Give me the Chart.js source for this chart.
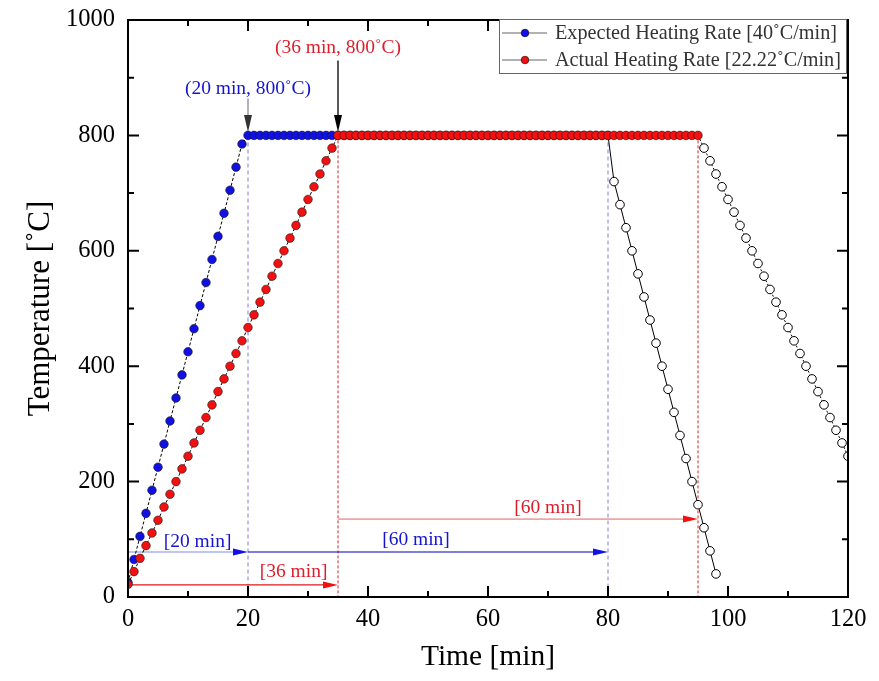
<!DOCTYPE html>
<html>
<head>
<meta charset="utf-8">
<script src="https://cdn.jsdelivr.net/npm/chart.js@4.4.1/dist/chart.umd.min.js"></script>
<style>
  html, body { margin: 0; padding: 0; background: #fff; }
  canvas { display: block; }
</style>
</head>
<body>
<canvas id="c" width="879" height="681"></canvas>
<script>
// ---------------- DATA ----------------
const expectedTime = [0,1,2,3,4,5,6,7,8,9,10,11,12,13,14,15,16,17,18,19,20,
  21,22,23,24,25,26,27,28,29,30,31,32,33,34,35,36,37,38,39,40,41,42,43,44,45,46,47,48,49,50,
  51,52,53,54,55,56,57,58,59,60,61,62,63,64,65,66,67,68,69,70,71,72,73,74,75,76,77,78,79,80];
const expectedTemp = [25,65,105,145,185,225,265,305,345,385,425,465,505,545,585,625,665,705,745,785,800,
  800,800,800,800,800,800,800,800,800,800,800,800,800,800,800,800,800,800,800,800,800,800,800,800,800,800,800,800,800,800,
  800,800,800,800,800,800,800,800,800,800,800,800,800,800,800,800,800,800,800,800,800,800,800,800,800,800,800,800,800,800];

const actualTime = [0,1,2,3,4,5,6,7,8,9,10,11,12,13,14,15,16,17,18,19,20,21,22,23,24,25,26,27,28,29,30,31,32,33,34,35,
  36,37,38,39,40,41,42,43,44,45,46,47,48,49,50,51,52,53,54,55,56,57,58,59,60,61,62,63,64,65,
  66,67,68,69,70,71,72,73,74,75,76,77,78,79,80,81,82,83,84,85,86,87,88,89,90,91,92,93,94,95];
const actualTemp = [22,44,67,89,111,133,156,178,200,222,244,267,289,311,333,356,378,400,422,444,467,489,511,533,556,578,600,622,644,667,689,711,733,756,778,800,
  800,800,800,800,800,800,800,800,800,800,800,800,800,800,800,800,800,800,800,800,800,800,800,800,800,800,800,800,800,800,
  800,800,800,800,800,800,800,800,800,800,800,800,800,800,800,800,800,800,800,800,800,800,800,800,800,800,800,800,800,800];

const expectedCoolTime = [80,81,82,83,84,85,86,87,88,89,90,91,92,93,94,95,96,97,98];
const expectedCoolTemp = [800,720,680,640,600,560,520,480,440,400,360,320,280,240,200,160,120,80,40];

const actualCoolTime = [95,96,97,98,99,100,101,102,103,104,105,106,107,108,109,110,111,112,113,114,115,116,117,118,119,120];
const actualCoolTemp = [800,778,756,733,711,689,667,644,622,600,578,556,533,511,489,467,444,422,400,378,356,333,311,289,267,244];

const xTicks = [0,20,40,60,80,100,120];
const yTicks = [0,200,400,600,800,1000];
const legendLabels = ['Expected Heating Rate [40˚C/min]', 'Actual Heating Rate [22.22˚C/min]'];

// ---------------- HELPERS ----------------
const FONT = '"Liberation Serif", "Times New Roman", serif';
const pts = (xs, ys) => xs.map((t, i) => ({x: t, y: ys[i]}));

function arrowHead(ctx, x1, y1, x2, y2, len, hw, color) {
  const a = Math.atan2(y2 - y1, x2 - x1);
  ctx.save();
  ctx.fillStyle = color;
  ctx.beginPath();
  ctx.moveTo(x2, y2);
  ctx.lineTo(x2 - len * Math.cos(a) + hw * Math.sin(a), y2 - len * Math.sin(a) - hw * Math.cos(a));
  ctx.lineTo(x2 - len * Math.cos(a) - hw * Math.sin(a), y2 - len * Math.sin(a) + hw * Math.cos(a));
  ctx.closePath();
  ctx.fill();
  ctx.restore();
}

function line(ctx, x1, y1, x2, y2, color, w, dash) {
  ctx.save();
  ctx.strokeStyle = color;
  ctx.lineWidth = w;
  ctx.setLineDash(dash || []);
  ctx.beginPath();
  ctx.moveTo(x1, y1);
  ctx.lineTo(x2, y2);
  ctx.stroke();
  ctx.restore();
}

const bgPlugin = {
  id: 'bg',
  beforeDraw(chart) {
    const ctx = chart.ctx;
    ctx.save();
    ctx.fillStyle = '#fff';
    ctx.fillRect(0, 0, chart.width, chart.height);
    ctx.restore();
  }
};

const annotPlugin = {
  id: 'annot',
  beforeDatasetsDraw(chart) {
    const {ctx, scales: {x, y}} = chart;
    const X = v => x.getPixelForValue(v), Y = v => y.getPixelForValue(v);
    // vertical dashed guides
    line(ctx, X(20), Y(800), X(20), Y(0), '#9c9ce8', 1.3, [4, 3]);
    line(ctx, X(80), Y(800), X(80), Y(0), '#9c9ce8', 1.3, [4, 3]);
    line(ctx, X(35), Y(800), X(35), Y(0), '#d82020', 1, [3, 2]);
    line(ctx, X(95), Y(800), X(95), Y(0), '#d82020', 1, [3, 2]);
    // horizontal arrows
    line(ctx, X(0), Y(78), X(20) - 6, Y(78), '#a8b0f0', 1.6);
    arrowHead(ctx, X(0), Y(78), X(20), Y(78), 15, 3.5, '#1010e8');
    line(ctx, X(20), Y(78), X(80) - 6, Y(78), '#0000c0', 1.2);
    arrowHead(ctx, X(20), Y(78), X(80), Y(78), 15, 3.5, '#1010e8');
    line(ctx, X(0), Y(21), X(35) - 6, Y(21), '#e01818', 1.2);
    arrowHead(ctx, X(0), Y(21), X(35), Y(21), 15, 3.5, '#f01010');
    line(ctx, X(35), Y(135), X(95) - 6, Y(135), '#f2a4a4', 1.6);
    arrowHead(ctx, X(35), Y(135), X(95), Y(135), 15, 3.5, '#f01010');
    // down arrows
    line(ctx, X(20), Y(864), X(20), Y(820), '#8a8a8a', 1.3);
    arrowHead(ctx, X(20), Y(864), X(20), Y(806), 17, 4, '#333');
    line(ctx, X(35), Y(930), X(35), Y(820), '#000', 1.3);
    arrowHead(ctx, X(35), Y(930), X(35), Y(806), 17, 4, '#000');
    // texts
    ctx.save();
    ctx.font = '19.5px ' + FONT;
    ctx.textAlign = 'center';
    ctx.textBaseline = 'middle';
    ctx.fillStyle = '#1414d2';
    ctx.fillText('[20 min]', X(11.6), Y(95));
    ctx.fillText('[60 min]', X(48), Y(99));
    ctx.fillText('(20 min, 800˚C)', X(20), Y(881));
    ctx.fillStyle = '#dc1e2a';
    ctx.fillText('[36 min]', X(27.6), Y(43));
    ctx.fillText('[60 min]', X(70), Y(154));
    ctx.fillText('(36 min, 800˚C)', X(35), Y(951));
    ctx.restore();
  },
  afterDatasetsDraw(chart) {
    const {ctx, chartArea: a, scales: {x, y}} = chart;
    ctx.save();
    ctx.strokeStyle = '#000';
    ctx.lineWidth = 2;
    ctx.strokeRect(a.left, a.top, a.right - a.left, a.bottom - a.top);
    ctx.lineWidth = 2;
    for (let v = 0; v <= 120; v += 10) {
      const px = x.getPixelForValue(v);
      const len = v % 20 === 0 ? 11 : 6;
      ctx.beginPath();
      ctx.moveTo(px, a.bottom); ctx.lineTo(px, a.bottom - len);
      ctx.moveTo(px, a.top); ctx.lineTo(px, a.top + len);
      ctx.stroke();
    }
    for (let v = 0; v <= 1000; v += 100) {
      const py = y.getPixelForValue(v);
      const len = v % 200 === 0 ? 11 : 6;
      ctx.beginPath();
      ctx.moveTo(a.left, py); ctx.lineTo(a.left + len, py);
      ctx.moveTo(a.right, py); ctx.lineTo(a.right - len, py);
      ctx.stroke();
    }
    ctx.restore();
    // legend box
    ctx.save();
    const bx = 499, by = 19, bw = 347, bh = 54;
    ctx.fillStyle = '#fff';
    ctx.fillRect(bx, by, bw, bh);
    ctx.strokeStyle = '#666';
    ctx.lineWidth = 1;
    ctx.strokeRect(bx + 0.5, by + 0.5, bw, bh);
    const rows = [by + 14, by + 41];
    const colors = ['#1010e8', '#f01010'];
    rows.forEach((ry, i) => {
      line(ctx, 502, ry, 547, ry, '#666', 1.2);
      ctx.beginPath();
      ctx.arc(525, ry, 3.8, 0, Math.PI * 2);
      ctx.fillStyle = colors[i];
      ctx.fill();
      ctx.lineWidth = 0.6;
      ctx.strokeStyle = '#000';
      ctx.stroke();
      ctx.font = '20.2px ' + FONT;
      ctx.fillStyle = '#333';
      ctx.textAlign = 'left';
      ctx.textBaseline = 'middle';
      ctx.fillText(legendLabels[i], 555, ry + 1);
    });
    ctx.restore();
  }
};

// ---------------- CHART ----------------
const dotStyle = (color) => ({
  showLine: true,
  borderColor: '#000',
  borderWidth: 1,
  borderDash: [3, 2],
  pointRadius: 4.3,
  pointBackgroundColor: color,
  pointBorderColor: '#1a1a1a',
  pointBorderWidth: 0.6,
  clip: 0
});

new Chart(document.getElementById('c'), {
  type: 'line',
  data: {
    datasets: [
      Object.assign({ label: legendLabels[1], data: pts(actualTime, actualTemp), order: 1 }, dotStyle('#f21010')),
      Object.assign({ label: legendLabels[0], data: pts(expectedTime, expectedTemp), order: 2 }, dotStyle('#1010e0')),
      {
        label: 'expected cooling', data: pts(expectedCoolTime, expectedCoolTemp), order: 3,
        borderColor: '#000', borderWidth: 1,
        pointRadius: ctx => ctx.dataIndex === 0 ? 0 : 4.3,
        pointBackgroundColor: '#fff', pointBorderColor: '#000', pointBorderWidth: 1, clip: 0
      },
      {
        label: 'actual cooling', data: pts(actualCoolTime, actualCoolTemp), order: 3,
        borderColor: '#000', borderWidth: 1, borderDash: [2, 2],
        pointRadius: ctx => ctx.dataIndex === 0 ? 0 : 4.3,
        pointBackgroundColor: '#fff', pointBorderColor: '#000', pointBorderWidth: 1, clip: 0
      }
    ]
  },
  options: {
    responsive: false,
    animation: false,
    events: [],
    layout: { padding: 0 },
    plugins: { legend: { display: false }, tooltip: { enabled: false } },
    scales: {
      x: {
        type: 'linear', position: 'bottom', min: 0, max: 120,
        afterBuildTicks: s => { s.ticks = xTicks.map(v => ({value: v})); },
        ticks: { font: { family: FONT, size: 24.5, lineHeight: 1 }, color: '#000', padding: 0, maxRotation: 0, autoSkip: false, callback: v => String(v) },
        grid: { display: false, drawTicks: true, tickLength: 10 },
        border: { display: false },
        title: { display: true, text: 'Time [min]', color: '#000', font: { family: FONT, size: 29.5 }, padding: { top: 0, bottom: 6 } },
        afterFit: s => { s.height = 84; }
      },
      y: {
        type: 'linear', position: 'left', min: 0, max: 1000,
        afterBuildTicks: s => { s.ticks = yTicks.map(v => ({value: v})); },
        ticks: { font: { family: FONT, size: 24.5, lineHeight: 1 }, color: '#000', padding: 0, autoSkip: false, callback: v => String(v) },
        grid: { display: false, drawTicks: true, tickLength: 13 },
        border: { display: false },
        title: { display: true, text: 'Temperature [˚C]', color: '#000', font: { family: FONT, size: 31 }, padding: { top: 22, bottom: 0 } },
        afterFit: s => { s.width = 128; }
      },
      x2: {
        type: 'linear', position: 'top', min: 0, max: 120,
        ticks: { display: false }, grid: { display: false, drawTicks: false }, border: { display: false },
        afterFit: s => { s.height = 20; }
      },
      y2: {
        type: 'linear', position: 'right', min: 0, max: 1000,
        ticks: { display: false }, grid: { display: false, drawTicks: false }, border: { display: false },
        afterFit: s => { s.width = 31; }
      }
    }
  },
  plugins: [bgPlugin, annotPlugin]
});
</script>
</body>
</html>
